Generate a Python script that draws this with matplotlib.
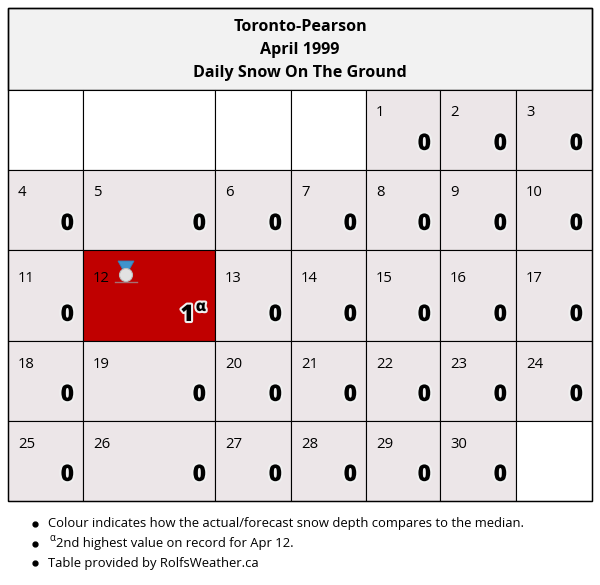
import numpy as np
import matplotlib
matplotlib.use("Agg")
import matplotlib.pyplot as plt
from matplotlib import patches
import matplotlib.patheffects as pe

plt.rcParams['font.family'] = ['Open Sans', 'DejaVu Sans']

TITLE = ["Toronto-Pearson", "April 1999", "Daily Snow On The Ground"]
FIRST_WEEKDAY = 4          # April 1 1999 falls in column 4 (Sun..Sat)
DAYS = list(range(1, 31))
SNOW = [0] * 11 + [1] + [0] * 18
RECORD_NOTE = {12: "α"}
MEDAL_DAYS = [12]
NORMAL_COLOR = "#ece6e8"
ABOVE_COLOR = "#c00000"
CELL_COLORS = [ABOVE_COLOR if v > 0 else NORMAL_COLOR for v in SNOW]
NOTES = ["Colour indicates how the actual/forecast snow depth compares to the median.",
         "ᵅ2nd highest value on record for Apr 12.",
         "Table provided by RolfsWeather.ca"]

# layout in pixels
COL_W = [75, 132, 76, 75, 74, 76, 76]
ROW_H = [80, 80, 91, 80, 80]
X0, Y0, HEAD_H = 8, 8, 82

fig = plt.figure(figsize=(6, 5.85), dpi=100)
ax = fig.add_axes([0, 0, 1, 1])
ax.set_xlim(0, 600); ax.set_ylim(585, 0); ax.axis("off")

xs = np.concatenate([[X0], X0 + np.cumsum(COL_W)])
ys = np.concatenate([[Y0 + HEAD_H], Y0 + HEAD_H + np.cumsum(ROW_H)])
W = xs[-1] - X0

ax.add_patch(patches.Rectangle((X0, Y0), W, HEAD_H, fc="#f2f2f2", ec="black", lw=1))
for i, t in enumerate(TITLE):
    ax.text(X0 + W / 2, Y0 + 19 + i * 23, t, ha="center", va="center",
            fontsize=11.6, fontweight="bold")

stroke = [pe.withStroke(linewidth=3, foreground="#f0f0f0")]
for r in range(len(ROW_H)):
    for c in range(7):
        idx = r * 7 + c - FIRST_WEEKDAY
        x, y, w, h = xs[c], ys[r], COL_W[c], ROW_H[r]
        if 0 <= idx < len(DAYS):
            ax.add_patch(patches.Rectangle((x, y), w, h, fc=CELL_COLORS[idx], ec="black", lw=0.8))
            d = DAYS[idx]
            ax.text(x + 10, y + h / 2 - 17, str(d), ha="left", va="center", fontsize=10.7)
            vy = y + h - 26
            if d in RECORD_NOTE:
                ax.text(x + w - 9, vy - 8, RECORD_NOTE[d], ha="right", va="center",
                        fontsize=11, fontweight=800, path_effects=stroke)
                ax.text(x + w - 21, vy, str(SNOW[idx]), ha="right", va="center",
                        fontsize=16.5, fontweight=800, path_effects=stroke)
            else:
                ax.text(x + w - 9, vy, str(SNOW[idx]), ha="right", va="center",
                        fontsize=16.5, fontweight=800, path_effects=stroke)
            if d in MEDAL_DAYS:
                mx, my = x + 43, y + 24
                ax.plot([mx - 11, mx + 11], [my + 8, my + 8], color="#9aa0a6", lw=1, alpha=0.7)
                ax.add_patch(patches.Polygon([[mx - 8, my - 13], [mx + 8, my - 13], [mx + 3, my - 4],
                                              [mx - 3, my - 4]], closed=True, fc="#3f93cc", ec="#2f7fb5", lw=0.6))
                ax.add_patch(patches.Circle((mx, my + 1), 6.5, fc="#e2e2e2", ec="#bdbdbd", lw=0.8))
        else:
            ax.add_patch(patches.Rectangle((x, y), w, h, fc="white", ec="black", lw=0.8))

ax.add_patch(patches.Rectangle((X0, Y0), W, ys[-1] - Y0, fill=False, ec="black", lw=1))

for i, n in enumerate(NOTES):
    yy = 524 + i * 19.5
    ax.plot(35, yy, "o", color="black", ms=3.5)
    if n.startswith("ᵅ"):
        ax.text(49, yy - 5, "α", ha="left", va="center", fontsize=7)
        ax.text(56, yy, n[1:], ha="left", va="center", fontsize=9.4)
    else:
        ax.text(48, yy, n, ha="left", va="center", fontsize=9.4)

fig.savefig("out.png", dpi=100)
